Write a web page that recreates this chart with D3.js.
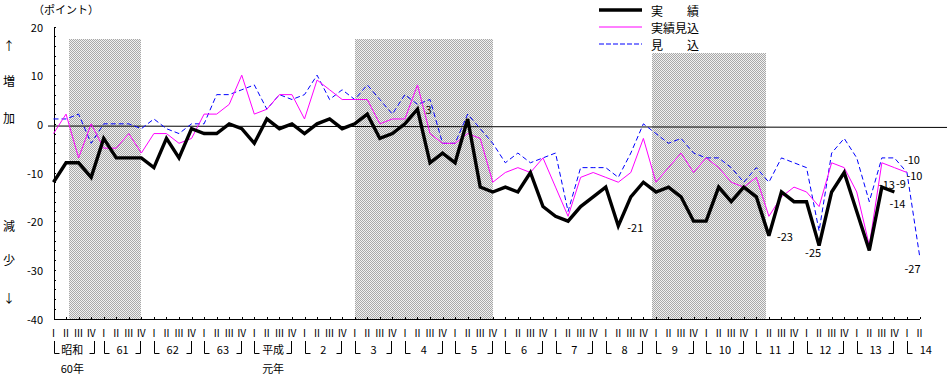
<!DOCTYPE html>
<html><head><meta charset="utf-8">
<script src="https://cdn.jsdelivr.net/npm/d3@7"></script>
<style>body{margin:0;background:#fff}svg{display:block}</style>
</head><body>
<svg id="c" width="950" height="376"></svg>
<script>
// ---------- data ----------
const yearGroups = ["昭和","61","62","63","平成","2","3","4","5","6","7","8","9","10","11","12","13","14"];
const yearSubLabels = ["60年","","","","元年","","","","","","","","","","","","",""];
const quarterNames = ["Ⅰ","Ⅱ","Ⅲ","Ⅳ"];
const lastGroupQuarterCount = 2;
const yTickValues = [20,10,0,-10,-20,-30,-40];
const seriesNames = ["実　　績","実績見込","見　　込"];
const actual = [-12,-8,-8,-11,-3,-7,-7,-7,-9,-3,-7,-1,-2,-2,0,-1,-4,1,
  -1,0,-2,0,1,-1,0,2,-3,-2,0,3,-8,-6,-8,1,-13,-14,
  -13,-14,-10,-17,-19,-20,-17,-15,-13,-21,-15,-12,-14,-13,-15,-20,-20,
  -13,-16,-13,-15,-23,-14,-16,-16,-25,-14,-10,-18,-26,-13,-14];
const actualEstimate = [-2,2,-7,0,-5,-5,-2,-6,-2,-2,-4,-3,2,2,4,10,2,3,
  6,6,1,9,7,5,5,5,0,1,1,8,-2,-4,-4,-2,-3,-12,
  -10,-9,-10,-7,-13,-19,-11,-10,-11,-12,-10,-3,-12,-9,-6,-10,-7,
  -9,-12,-13,-11,-19,-15,-13,-14,-17,-8,-9,-14,-25,-8,-9,-10];
const forecast = [1,1,2,-4,0,0,0,-1,1,-1,-2,0,0,6,6,7,8,3,
  6,5,6,10,5,7,5,8,5,2,6,4,5,-4,-4,2,-1,-4,
  -8,-6,-8,-7,-6,-18,-9,-9,-9,-11,-6,0,-2,-4,-3,-6,-7,
  -7,-9,-12,-9,-12,-7,-8,-9,-22,-6,-3,-7,-16,-7,-7,-10,-27];
// recession shading: start / end quarter index and upper value
const recessionStart = [1.25, 24, 47.7];
const recessionEnd   = [7, 35, 56.8];
const recessionTop   = [17.5, 17.5, 14.6];
// value labels: series, quarter index
const labelSeries = ["actual","actual","actual","actual","actual","actual","estimate","forecast","estimate","forecast"];
const labelIndex  = [29,45,57,61,66,67,67,68,68,69];

// ---------- layout ----------
const svg = d3.select("#c");
const F = "'Noto Sans CJK JP','Noto Sans',sans-serif";
const nQ = (yearGroups.length-1)*4 + lastGroupQuarterCount;
const x = d3.scaleLinear().domain([0, nQ-1]).range([53.5, 919.5]);
const y = d3.scaleLinear().domain([-40, 20]).range([318.5, 26.5]);

// checker pattern for shading
const defs = svg.append("defs");
const pat = defs.append("pattern").attr("id","chk").attr("patternUnits","userSpaceOnUse")
  .attr("width",2).attr("height",2);
pat.append("rect").attr("width",2).attr("height",2).attr("fill","#f0f0f0");
pat.append("rect").attr("x",0).attr("y",0).attr("width",1).attr("height",1).attr("fill","#a8a8a8");
pat.append("rect").attr("x",1).attr("y",1).attr("width",1).attr("height",1).attr("fill","#a8a8a8");

svg.append("g").selectAll("rect").data(recessionStart).join("rect")
  .attr("x", (d,i)=>Math.round(x(d)))
  .attr("width", (d,i)=>Math.round(x(recessionEnd[i]) - x(d)))
  .attr("y", (d,i)=>Math.round(y(recessionTop[i])))
  .attr("height", (d,i)=>Math.round(y(-40) - y(recessionTop[i])))
  .attr("fill","url(#chk)");

// zero reference line (slightly sloped as in the original)
svg.append("line").attr("x1",48).attr("x2",947).attr("y1",y(0)+2.2).attr("y2",y(0)+3.6)
  .attr("stroke","#000").attr("stroke-width",1);

// y axis
const yAxis = d3.axisRight(y).tickValues(d3.range(-40, 21, 2)).tickSize(2).tickSizeOuter(0).tickFormat("");
const ya = svg.append("g").attr("transform","translate(53.5,0)").call(yAxis);
ya.selectAll("path,line").attr("stroke","#000").attr("shape-rendering","crispEdges");
svg.append("g").selectAll("text").data(yTickValues).join("text")
  .attr("x",43).attr("y",d=>y(d)).attr("text-anchor","end").attr("dominant-baseline","central")
  .attr("font-family",F).attr("font-size",11).text(d=>d);

// x axis
const xAxis = d3.axisTop(x).tickValues(d3.range(0,nQ)).tickSize(2).tickSizeOuter(0).tickFormat("");
const xa = svg.append("g").attr("transform","translate(0,318.5)").call(xAxis);
xa.selectAll("path,line").attr("stroke","#000").attr("shape-rendering","crispEdges");

// quarter labels
const qIdx = d3.range(0,nQ);
svg.append("g").selectAll("text").data(qIdx).join("text")
  .attr("x",d=>x(d)).attr("y",332).attr("text-anchor","middle").attr("dominant-baseline","central")
  .attr("font-family",F).attr("font-size",10).text(d=>quarterNames[d%4]);

// year groups with bracket marks
const yg = svg.append("g");
yearGroups.forEach((g,gi)=>{
  const s = gi*4, e = s+3;
  const xl = Math.round(x(s))+0.5;
  yg.append("path").attr("d",`M${xl},341V353.5H${xl+5}`).attr("fill","none").attr("stroke","#000").attr("stroke-width",1);
  if (gi < yearGroups.length-1) {
    const xr = Math.round(x(e)) - (gi===0 ? -3 : 1) + 0.5;
    yg.append("path").attr("d",`M${xr-5},353.5H${xr}V341`).attr("fill","none").attr("stroke","#000").attr("stroke-width",1);
  }
  yg.append("text").attr("x",x(s+1.5)).attr("y",349).attr("text-anchor","middle").attr("dominant-baseline","central")
    .attr("font-family",F).attr("font-size",11).text(g);
  if (yearSubLabels[gi]) {
    yg.append("text").attr("x",x(s+1.5)).attr("y",368).attr("text-anchor","middle").attr("dominant-baseline","central")
      .attr("font-family",F).attr("font-size",11).text(yearSubLabels[gi]);
  }
});

// left annotations
svg.append("text").attr("x",33).attr("y",9).attr("dominant-baseline","central")
  .attr("font-family",F).attr("font-size",11).text("（ポイント）");
const sideText = ["↑","増","加","減","少","↓"];
const sideY = [45,80,117,225,259,297];
svg.append("g").selectAll("text").data(sideText).join("text")
  .attr("x",9).attr("y",(d,i)=>sideY[i]).attr("text-anchor","middle").attr("dominant-baseline","central")
  .attr("font-family",F).attr("font-size",12).text(d=>d);

// series
const line = d3.line().x((d,i)=>x(i)).y(d=>y(d));
svg.append("path").datum(forecast).attr("d",line).attr("fill","none")
  .attr("stroke","#0000ff").attr("stroke-width",1).attr("stroke-dasharray","5,3");
svg.append("path").datum(actualEstimate).attr("d",line).attr("fill","none")
  .attr("stroke","#ff00ff").attr("stroke-width",1);
svg.append("path").datum(actual).attr("d",line).attr("fill","none")
  .attr("stroke","#000").attr("stroke-width",3.4).attr("stroke-linejoin","miter").attr("stroke-miterlimit",3);

// value labels
const seriesMap = {actual, estimate: actualEstimate, forecast};
const labelDx = [11,17,16,-6,5,3,6.5,5,7.5,-7];
const labelDy = [0,1,0,6,-3,11,15,-14,2,13];
const lg = svg.append("g");
labelSeries.forEach((s,k)=>{
  const i = labelIndex[k], v = seriesMap[s][i];
  lg.append("text").attr("x",x(i)+labelDx[k]).attr("y",y(v)+labelDy[k])
    .attr("text-anchor","middle").attr("dominant-baseline","central")
    .attr("font-family",F).attr("font-size",11).text(v);
});

// legend
const legY = [10,27,44];
const leg = svg.append("g");
const legStroke = ["#000","#ff00ff","#0000ff"], legW = [3.4,1,1.2], legDash = [null,null,"5,2"];
seriesNames.forEach((n,i)=>{
  leg.append("line").attr("x1",599).attr("x2",642).attr("y1",legY[i]).attr("y2",legY[i])
    .attr("stroke",legStroke[i]).attr("stroke-width",legW[i]).attr("stroke-dasharray",legDash[i]);
  leg.append("text").attr("x",651).attr("y",legY[i]).attr("dominant-baseline","central")
    .attr("font-family",F).attr("font-size",12).text(n);
});
</script>
</body></html>
